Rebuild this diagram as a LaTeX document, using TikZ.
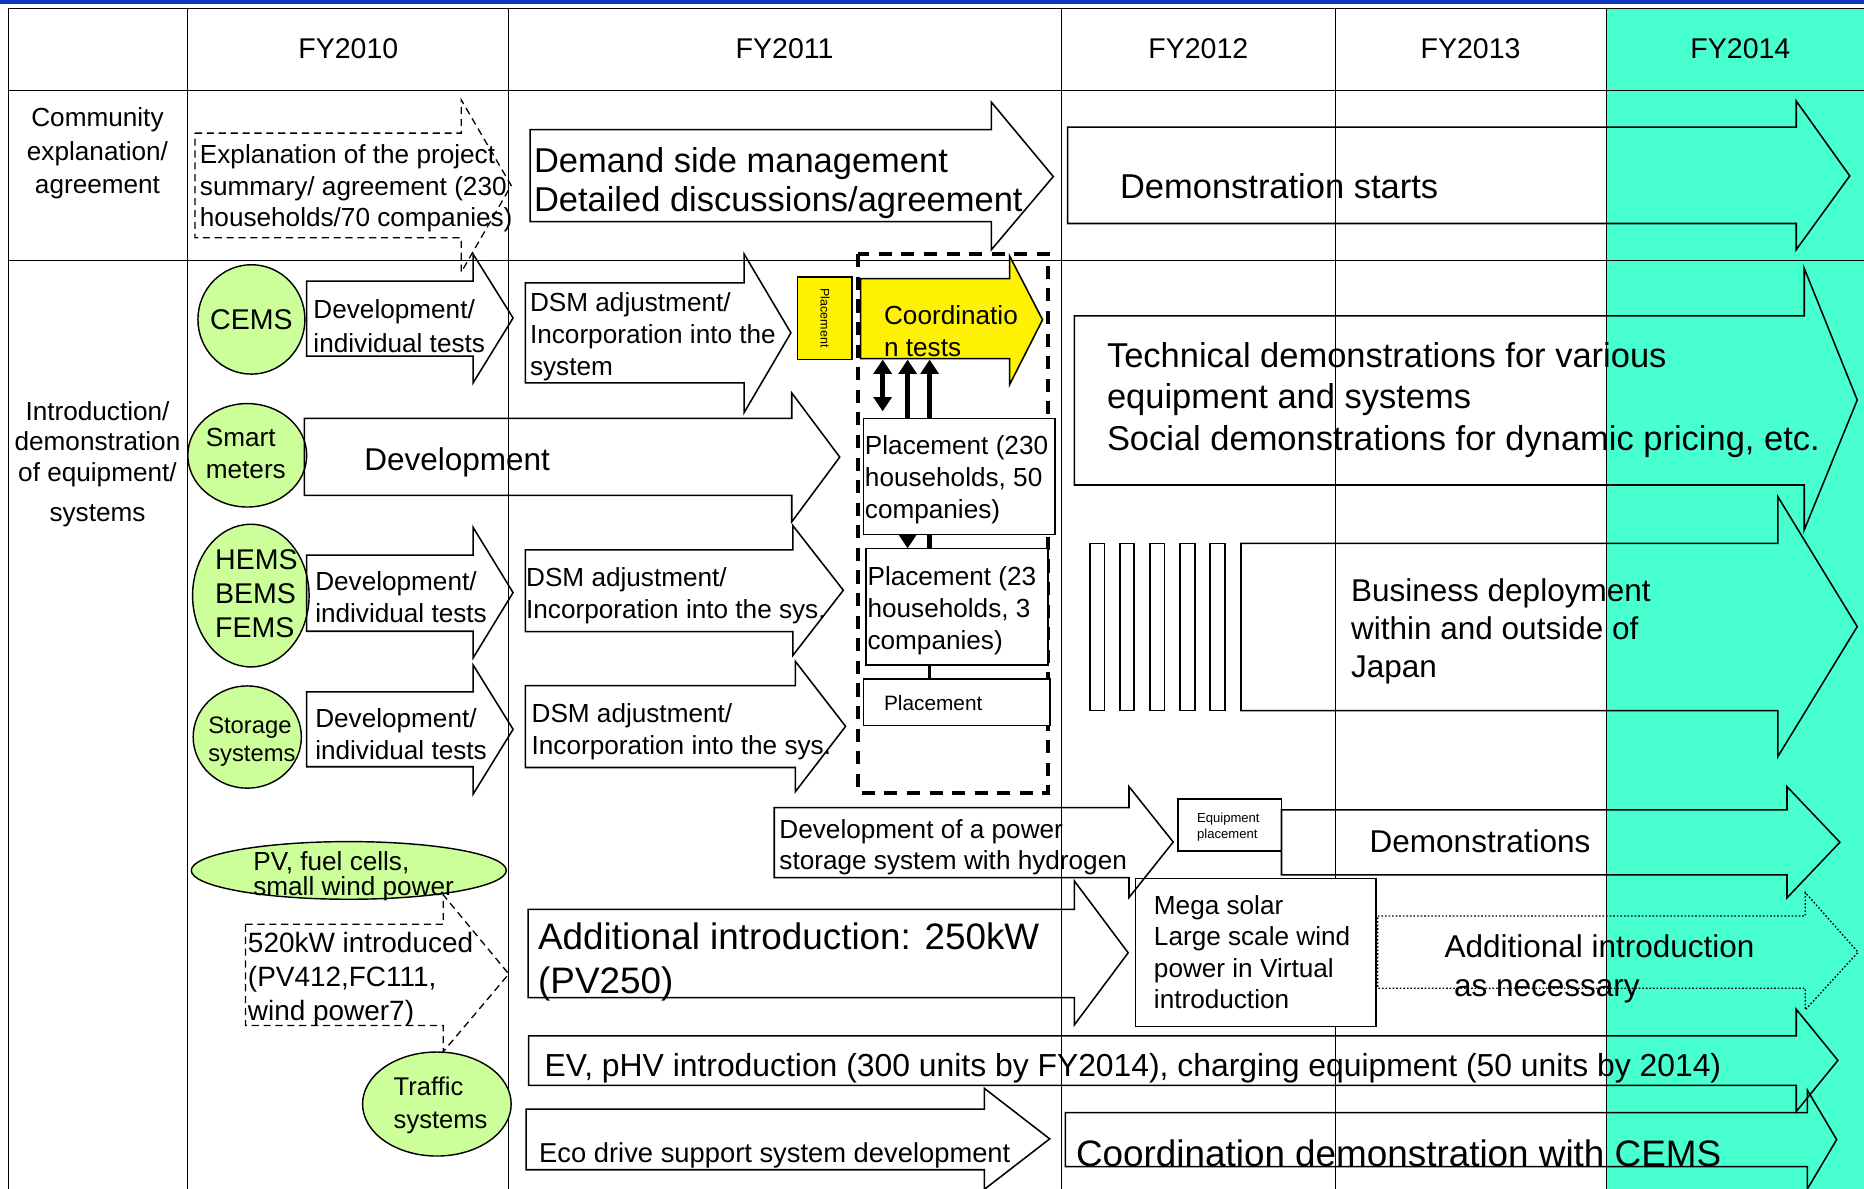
\documentclass[tikz,border=0pt]{standalone}
\usepackage{fontspec}
\setmainfont{Liberation Sans}
\usetikzlibrary{shapes.geometric,arrows.meta}
\definecolor{tealbg}{RGB}{72,255,208}
\definecolor{ballgreen}{RGB}{204,255,153}
\definecolor{topblue}{RGB}{16,52,190}
\newcommand\fs[2]{\fontsize{#1}{#2}\selectfont}
% block arrow: [style]{x1}{ytop}{ybot}{xhead}{yheadtop}{yheadbot}{xtip}{ytip}
\newcommand\blkarrow[9][]{\draw[blk,#1] (#2,#3) -- (#5,#3) -- (#5,#6) -- (#8,#9) -- (#5,#7) -- (#5,#4) -- (#2,#4) -- cycle;}
\begin{document}
\begin{tikzpicture}[x=1pt,y=-1pt,
  grid/.style={draw=black, line width=0.8pt},
  blk/.style={draw=black, line width=1.3pt, line join=miter},
  ball/.style={ellipse, draw=black, line width=1.2pt, fill=ballgreen, inner sep=0pt, outer sep=0pt},
  pbox/.style={rectangle, draw=black, line width=1.3pt, fill=white, inner sep=0pt, outer sep=0pt, anchor=north west},
  txt/.style={anchor=north west, align=left, inner sep=0pt},
  ctxt/.style={anchor=north, align=center, inner sep=0pt},
  vert/.style={line width=4.5pt, -{Triangle[width=15pt,length=12pt]}},
  dbl/.style={line width=4.5pt, {Triangle[width=15pt,length=12pt]}-{Triangle[width=15pt,length=12pt]}},
  dashedline/.style={dash pattern=on 6pt off 4pt, line width=1.1pt},
  dottedline/.style={dash pattern=on 1.4pt off 1.6pt, line width=1.1pt}
]
\useasboundingbox (0,0) rectangle (1568,1000);
\clip (0,0) rectangle (1568,1000);
% background
\fill[tealbg] (1351,7) rectangle (1568,1000);
\fill[topblue] (0,0) rectangle (1568,3);
% table grid
\draw[grid, line width=1.3pt] (7,7) -- (1568,7);
\draw[grid] (7,76) -- (1568,76);
\draw[grid] (7,219) -- (1568,219);
\draw[grid, line width=1.3pt] (7,7) -- (7,1000);
\foreach \x in {158,428,893,1123,1351} \draw[grid] (\x,7) -- (\x,1000);
% header texts
\node[inner sep=0pt, font=\fs{24}{28}] (h10) at (293,41) {FY2010};
\node[inner sep=0pt, font=\fs{24}{28}] (h11) at (660,41) {FY2011};
\node[inner sep=0pt, font=\fs{24}{28}] (h12) at (1008,41) {FY2012};
\node[inner sep=0pt, font=\fs{24}{28}] (h13) at (1237,41) {FY2013};
\node[inner sep=0pt, font=\fs{24}{28}] (h14) at (1464,41) {FY2014};
% row labels
\node[ctxt, font=\fs{22}{28}] (lab1) at (82,90.6) {Community\\explanation/\\agreement};
\node[ctxt, font=\fs{22}{25.5}] (lab2) at (82,337.6) {Introduction/\\demonstration\\of equipment/\\[8.5pt]systems};
% green balls
\node[ball, minimum width=90pt, minimum height=92pt] (cems) at (211.5,268.7) {};
\node[ball, minimum width=100pt, minimum height=87pt] (smart) at (208,383) {};
\node[ball, minimum width=98pt, minimum height=120pt] (hems) at (211,501) {};
\node[ball, minimum width=91pt, minimum height=86pt] (stor) at (208,620) {};
\node[ball, minimum width=265pt, minimum height=48.5pt] (pv) at (293.4,732.2) {};
\node[ball, minimum width=125pt, minimum height=87.5pt] (traf) at (367.5,928.7) {};
% white boxes (behind arrows)
\node[pbox, minimum width=202.3pt, minimum height=124.8pt] (mega) at (955.2,738.8) {};
\node[pbox, minimum width=87pt, minimum height=43.8pt] (equip) at (991,672) {};
% block arrows
\blkarrow[dashedline]{164}{112}{200}{388}{84}{229}{430}{156}
\blkarrow{446}{109}{186.5}{834}{86}{210}{886}{148.5}
\blkarrow{898}{107}{188}{1511}{85}{210}{1556}{148}
\blkarrow{258}{236.4}{299.5}{398}{213.8}{322}{431.6}{267.5}
\blkarrow{442}{238}{322}{626}{213.8}{347}{665.3}{280}
\blkarrow{256}{352}{416.7}{666}{330.5}{439}{706.4}{384.5}
\blkarrow{258}{467}{531}{398}{443.7}{553.4}{431.6}{498.5}
\blkarrow{442}{462.6}{531.4}{667}{442.2}{551.3}{709.4}{496.5}
\blkarrow{258}{582}{645}{398}{559.4}{668}{431.6}{613.5}
\blkarrow{442}{576.8}{645.6}{669}{556.3}{666}{711.3}{611}
\blkarrow{903.7}{265.8}{408}{1517.7}{225.7}{445.8}{1562.3}{336.5}
\blkarrow{1043.9}{457}{597.8}{1495.5}{417.8}{636.5}{1562.3}{527.1}
\blkarrow{651.3}{679.3}{738.2}{949.7}{661.7}{755}{986.9}{708.3}
\blkarrow{1078}{681.3}{736}{1503.2}{661.7}{755.3}{1547.7}{708.5}
\blkarrow[dottedline]{1159}{770.5}{831.3}{1518.6}{750.8}{849.5}{1563}{801}
\blkarrow{444.3}{764.9}{839.2}{903.7}{741}{862.2}{949}{801.5}
\blkarrow[dashedline]{206.5}{777.5}{862.7}{372.9}{752.8}{884.6}{428}{819.3}
\blkarrow{444.7}{871.4}{913}{1511}{849}{935}{1546}{892}
\blkarrow{442.5}{933}{984}{828}{915.5}{1000.5}{883}{958}
\blkarrow{896.2}{936}{981.3}{1520.3}{917}{1000.3}{1545}{958.6}
% coordination block
\node[pbox, fill=yellow, minimum width=45.7pt, minimum height=69.7pt] (yplace) at (671,232.8) {};
\blkarrow[fill=yellow]{724}{234.3}{301.6}{849.3}{215.4}{323.5}{877}{269}
\draw[line width=3.5pt, dash pattern=on 11pt off 8pt] (722,213.9) rectangle (881.5,667);
\node[pbox, minimum width=160.9pt, minimum height=97.8pt] (p1) at (726.4,352) {};
\node[pbox, minimum width=152.9pt, minimum height=98pt] (p2) at (728.6,461.3) {};
\node[pbox, minimum width=156.9pt, minimum height=39pt] (p3) at (726.4,571.4) {};
% five bars
\foreach \a/\b in {917/929,942/954,967.5/979.7,992.7/1005,1018/1030.5}
  \draw[blk] (\a,457) rectangle (\b,597.8);
% vertical connectors
\coordinate (va) at (742.5,0);
\coordinate (vb) at (763.5,0);
\coordinate (vc) at (782,0);
\coordinate (cbot) at (0,302.5);
\coordinate (dlow) at (0,346);
\draw[dbl] (va |- cbot) -- (va |- dlow);
\draw[vert] (p1.north -| vb) -- (vb |- cbot);
\draw[vert] (p1.north -| vc) -- (vc |- cbot);
\draw[vert] (p1.south -| vb) -- (p2.north -| vb);
\draw[line width=4.5pt] (p1.south -| vc) -- (p2.north -| vc);
\draw[line width=2pt] (p2.south -| vc) -- (p3.north -| vc);
% texts
\node[txt, font=\fs{22}{26.5}] (t1) at (168,121.6) {Explanation of the project\\summary/ agreement (230\\households/70 companies)};
\node[txt, font=\fs{29}{33}] (t2) at (449,123.6) {Demand side management\\Detailed discussions/agreement};
\node[txt, font=\fs{29}{33}] (t3) at (942,146) {Demonstration starts};
\node[inner sep=0pt, font=\fs{24}{28}] (tcems) at (211.5,268.5) {CEMS};
\node[txt, font=\fs{22}{28}] (t4) at (263.5,252) {Development/\\individual tests};
\node[txt, font=\fs{22}{27}] (t5) at (445.7,246) {DSM adjustment/\\Incorporation into the\\system};
\node[inner sep=0pt, rotate=-90, font=\fs{10.5}{12}] (t6) at (694,267.5) {Placement};
\node[txt, font=\fs{22}{26.5}] (t7) at (743.5,257) {Coordinatio\\n tests};
\node[txt, font=\fs{22}{27}] (t8) at (727.4,366.2) {Placement (230\\households, 50\\companies)};
\node[txt, font=\fs{22}{27}] (t9) at (173,360) {Smart\\meters};
\node[txt, font=\fs{26.5}{30}] (t10) at (306.3,376.5) {Development};
\node[txt, font=\fs{24}{28.5}] (t11) at (180.8,462.2) {HEMS\\BEMS\\FEMS};
\node[txt, font=\fs{22}{27}] (t12) at (265,480.3) {Development/\\individual tests};
\node[txt, font=\fs{22}{27}] (t13) at (442.4,477.3) {DSM adjustment/\\Incorporation into the sys.};
\node[txt, font=\fs{22}{27}] (t14) at (729.6,476.4) {Placement (23\\households, 3\\companies)};
\node[txt, font=\fs{17.5}{20}] (t15) at (743.5,584.8) {Placement};
\node[txt, font=\fs{20}{24}] (t16) at (175,602.8) {Storage\\systems};
\node[txt, font=\fs{22}{27}] (t17) at (265,596) {Development/\\individual tests};
\node[txt, font=\fs{22}{27}] (t18) at (447,591.6) {DSM adjustment/\\Incorporation into the sys.};
\node[txt, font=\fs{29}{35}] (t19) at (931,287.6) {Technical demonstrations for various\\equipment and systems\\Social demonstrations for dynamic pricing, etc.};
\node[txt, font=\fs{26.5}{32.2}] (t20) at (1136.4,486.2) {Business deployment\\within and outside of\\Japan};
\node[txt, font=\fs{22}{25.5}] (t21) at (655.5,689.6) {Development of a power\\storage system with hydrogen};
\node[txt, font=\fs{11}{13.5}] (t22) at (1006.8,684) {Equipment\\placement};
\node[txt, font=\fs{26.5}{32}] (t23) at (1152,698) {Demonstrations};
\node[txt, font=\fs{22}{26.6}] (t24) at (970.5,752.8) {Mega solar\\Large scale wind\\power in Virtual\\introduction};
\node[txt, font=\fs{26.5}{32.5}] (t25) at (1215,786.2) {Additional introduction\\\hspace*{8pt}as necessary};
\node[txt, font=\fs{31}{37}] (t26) at (452.5,776) {Additional introduction: 250kW\\(PV250)};
\node[txt, font=\fs{22}{20.4}] (t27) at (212.9,716.4) {PV, fuel cells,\\small wind power};
\node[txt, font=\fs{23.5}{28.5}] (t28) at (208.4,784) {520kW introduced\\(PV412,FC111,\\wind power7)};
\node[txt, font=\fs{21.5}{28}] (t29) at (331,905.8) {Traffic\\systems};
\node[txt, font=\fs{26.8}{30}] (t30) at (458,885.6) {EV, pHV introduction (300 units by FY2014), charging equipment (50 units by 2014)};
\node[txt, font=\fs{23}{27}] (t31) at (453.4,961.3) {Eco drive support system development};
\node[txt, font=\fs{31}{36}] (t32) at (905,958.2) {Coordination demonstration with CEMS};
\end{tikzpicture}
\end{document}
